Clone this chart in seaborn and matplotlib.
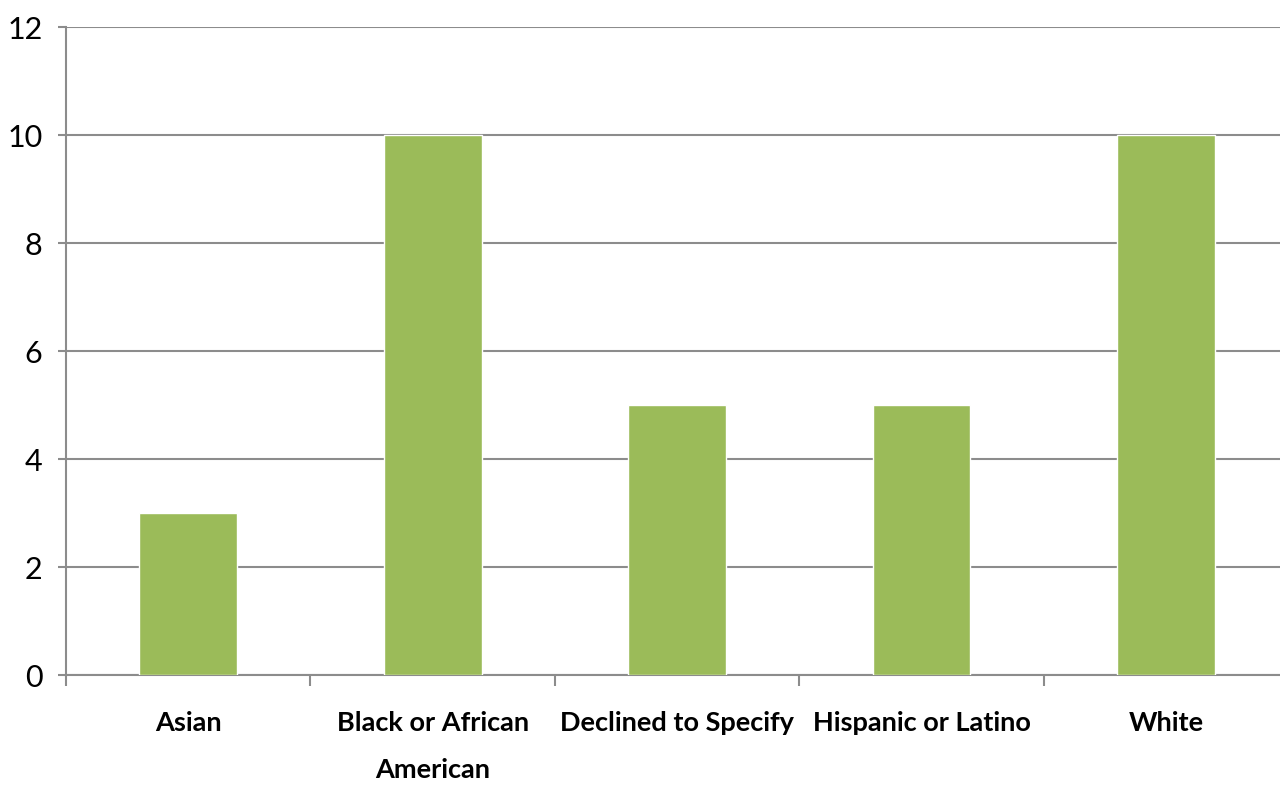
import matplotlib
matplotlib.use("Agg")
import pandas as pd
import seaborn as sns
import matplotlib.pyplot as plt

# data
categories = ["Asian", "Black or African\nAmerican", "Declined to Specify",
              "Hispanic or Latino", "White"]
counts = [3, 10, 5, 5, 10]
y_ticks = [0, 2, 4, 6, 8, 10, 12]

df = pd.DataFrame({"group": categories, "count": counts})

sns.set_style("white")
plt.rcParams['font.family'] = ['Lato', 'DejaVu Sans']

fig = plt.figure(figsize=(12.8, 7.88), dpi=100)
ax = fig.add_axes([0.0516, 0.1434, 0.9547, 0.8223])

sns.barplot(data=df, x="group", y="count", color="#9BBB59", saturation=1,
            width=0.4, ax=ax, zorder=3)

ax.set_ylim(0, 12)
ax.set_xlim(-0.5, 4.5)
ax.set_yticks(y_ticks)
ax.set_yticklabels([str(t) for t in y_ticks])
ax.yaxis.grid(True, color="#8c8c8c", linewidth=1.5, zorder=0)
ax.set_axisbelow(True)

for s in ["top", "right"]:
    ax.spines[s].set_visible(False)
for s in ["left", "bottom"]:
    ax.spines[s].set_color("#8c8c8c")
    ax.spines[s].set_linewidth(1.5)

# category boundary tick marks on x, labels centred in each slot
ax.set_xticks([i - 0.5 for i in range(len(categories) + 1)], minor=False)
ax.set_xticklabels([])
ax.set_xticks(range(len(categories)), minor=True)
ax.set_xticklabels(categories, minor=True, fontsize=19.5, fontweight="bold",
                   linespacing=2.15, color="black")
ax.tick_params(axis="x", which="major", length=8, width=1.5,
               color="#8c8c8c", direction="out", bottom=True)
ax.tick_params(axis="x", which="minor", length=0, pad=26)
ax.tick_params(axis="y", length=6, width=1.5, color="#8c8c8c",
               direction="out", left=True, labelsize=22, pad=11,
               labelcolor="black")

ax.set_xlabel("")
ax.set_ylabel("")

fig.savefig("out.png", dpi=100)
